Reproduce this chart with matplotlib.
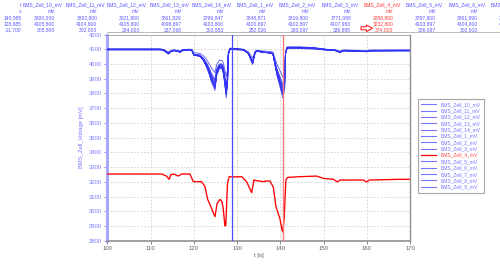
import matplotlib
matplotlib.use('Agg')
import matplotlib.pyplot as plt
from matplotlib.patches import Polygon
from matplotlib.lines import Line2D
import numpy as np

plt.rcParams['font.family'] = ['Liberation Sans', 'DejaVu Sans']

# ---------------- data ----------------
cells = ["BMS_Zell_10_mV", "BMS_Zell_11_mV", "BMS_Zell_12_mV", "BMS_Zell_13_mV",
         "BMS_Zell_14_mV", "BMS_Zell_1_mV", "BMS_Zell_2_mV", "BMS_Zell_3_mV",
         "BMS_Zell_4_mV", "BMS_Zell_5_mV", "BMS_Zell_6_mV", "BMS_Zell_7_mV",
         "BMS_Zell_8_mV", "BMS_Zell_9_mV"]
red_cell = "BMS_Zell_4_mV"

cursor_times = [140.585, 128.885]
# values at cursor 1 (t=140.585) and cursor 2 (t=128.885)
val_cursor1 = [3800.000, 3802.800, 3821.800, 3861.829, 3799.847, 3848.871, 3819.800,
               3771.088, 2858.800, 3797.800, 3801.890, 3913.000, 3790.000, 3835.000]
val_cursor2 = [4105.800, 4104.800, 4105.800, 4098.897, 4103.800, 4100.897, 4102.897,
               4107.983, 3232.800, 4103.897, 4104.800, 4104.000, 4104.500, 4103.000]

# typical course of the upper (blue) cells
t_blue = [100, 112.2, 113.0, 114.1, 114.7, 115.3, 116.0, 116.8, 117.5, 118.4, 119.5,
          120.0, 121.4, 122.2, 123.0, 123.6, 124.1, 124.9, 125.3, 125.9, 126.4, 126.7,
          127.0, 127.5, 127.8, 128.0, 128.4, 128.885, 129.9, 131.5, 132.6, 133.6, 134.2,
          134.6, 136.1, 137.3, 138.3, 139.2, 139.9, 140.585, 141.0, 141.2, 141.6, 144.6,
          148.0, 150.7, 152.5, 153.2, 153.8, 154.6, 160.0, 160.6, 167.7, 170]
v_blue = [4100, 4100, 4097, 4070, 4085, 4093, 4090, 4082, 4095, 4098, 4098,
          4062, 4055, 4030, 3985, 3940, 3895, 3845, 3935, 3978, 3980, 3968,
          3915, 3800, 3880, 4070, 4105, 4105, 4102, 4098, 4073, 4005, 4080,
          4089, 4080, 4077, 4070, 3940, 3870, 3800, 3850, 4070, 4113, 4113,
          4108, 4098, 4096, 4087, 4080, 4092, 4085, 4091, 4092, 4092]

# cell 4 (red)
t_red = [100, 112.2, 112.6, 113.7, 114.3, 114.7, 115.4, 116.4, 117.2, 119.1, 119.9,
         121.4, 121.8, 122.6, 123.2, 124.1, 124.9, 125.4, 126.1, 126.5, 126.8, 127.2,
         127.4, 127.8, 128.2, 128.885, 131.1, 132.2, 133.4, 133.9, 134.5, 136.1, 136.9,
         137.6, 138.4, 139.0, 139.9, 140.4, 140.585, 140.9, 141.3, 141.7, 144.6, 148.4,
         150.0, 152.3, 153.2, 153.8, 159.2, 160.0, 160.6, 167.7, 170]
v_red = [3253, 3253, 3253, 3239, 3217, 3249, 3253, 3239, 3253, 3253, 3201,
         3201, 3201, 3167, 3081, 3020, 2963, 3054, 3081, 3066, 3020, 2900,
         2905, 3190, 3236, 3233, 3235, 3201, 3126, 3212, 3208, 3201, 3206,
         3206, 3163, 3031, 2952, 2873, 2859, 2950, 3212, 3230, 3235, 3239,
         3223, 3217, 3199, 3212, 3212, 3199, 3212, 3217, 3217]

x_ticks = [100, 110, 120, 130, 140, 150, 160, 170]
y_ticks = [2800, 2900, 3000, 3100, 3200, 3300, 3400, 3500, 3600, 3700, 3800, 3900, 4000, 4100, 4200]

# ---------------- figure ----------------
W, H = 500, 265
fig = plt.figure(figsize=(W / 100, H / 100), dpi=100)
fig.patch.set_facecolor('white')

def fx(px):
    return px / W

def fy(py):
    return 1 - py / H

ax_l, ax_r, ax_t, ax_b = 107.3, 410.0, 34.6, 240.7
ax = fig.add_axes([fx(ax_l), fy(ax_b), fx(ax_r) - fx(ax_l), fy(ax_t) - fy(ax_b)])

BLUE = '#3434f4'
LBLUE = '#7878ff'
RED = '#ff0000'
FS = 4.2      # axis text
FT = 3.6      # header / legend text

tb = np.array(t_blue, dtype=float)
vb = np.array(v_blue, dtype=float)
ref1 = np.interp(cursor_times[0], tb, vb)
ref2 = np.interp(cursor_times[1], tb, vb)

handles = []
for i, name in enumerate(cells):
    if name == red_cell:
        ax.plot(t_red, v_red, color=RED, lw=0.95, zorder=4)
        handles.append(Line2D([], [], color=RED, lw=0.9))
    else:
        scale = (val_cursor2[i] - val_cursor1[i]) / (ref2 - ref1)
        v = val_cursor2[i] + (vb - ref2) * scale
        ax.plot(tb, v, color=BLUE, lw=0.6, alpha=0.85, zorder=3)
        handles.append(Line2D([], [], color=LBLUE, lw=0.8))

# cursors
ax.axvline(cursor_times[1], color='#4a4aff', lw=0.9, zorder=5)
ax.axvline(cursor_times[0], color='#ff7a7a', lw=1.0, zorder=5)

ax.set_xlim(100, 170)
ax.set_ylim(2800, 4200)
ax.set_xticks(x_ticks)
ax.set_yticks(y_ticks)
ax.grid(True, color='#cfcfcf', lw=0.6, linestyle=(0, (2, 2)))
ax.set_axisbelow(True)

ax.tick_params(axis='y', colors=LBLUE, labelsize=FS, length=2.5, width=0.6, pad=1.5)
ax.tick_params(axis='x', colors='#707070', labelsize=FS, length=2.5, width=0.6, pad=1.5)
for lab in ax.get_xticklabels():
    lab.set_color('#606060')

ax.spines['left'].set_color('#a8a8ff')
ax.spines['left'].set_linewidth(2.2)
ax.spines['bottom'].set_color('#909090')
ax.spines['bottom'].set_linewidth(1.2)
ax.spines['right'].set_color('#909090')
ax.spines['right'].set_linewidth(1.0)
ax.spines['top'].set_color('#a0a0a0')
ax.spines['top'].set_linewidth(0.6)

ax.set_xlabel('t [s]', fontsize=FS, color='#505050', labelpad=1.5)
ax.set_ylabel('BMS_Zell_Voltage [mV]', fontsize=FS, color=LBLUE, labelpad=3)

# legend
leg = fig.legend(handles, cells, loc='upper left', bbox_to_anchor=(fx(418), fy(99)),
                 borderaxespad=0, fontsize=FT, frameon=True, fancybox=False,
                 handlelength=3.0, handletextpad=1.0, labelspacing=0.27,
                 borderpad=0.6)
leg.get_frame().set_edgecolor('#909090')
leg.get_frame().set_linewidth(0.8)
for txt, name in zip(leg.get_texts(), cells):
    txt.set_color('#ff5050' if name == red_cell else LBLUE)

# ---------------- header table ----------------
row_y = [5.2, 11.6, 18.0, 24.2, 30.0]
TXT_BLUE = '#5a5aff'
TXT_RED = '#ff3a3a'

def fmt(v):
    return f"{v:.3f}".replace('.', ',')

# first column (time)
first_col = ['t', 's', fmt(cursor_times[0]), fmt(cursor_times[1]),
             fmt(cursor_times[1] - cursor_times[0])]
for y, s in zip(row_y, first_col):
    fig.text(fx(21.5), fy(y), s, ha='right', va='center', fontsize=FT, color=TXT_BLUE)

# columns visible in the cursor table (the last one runs past the right edge)
col_right0 = 55.0
col_step = 42.3
for k, name in enumerate(cells[:12]):
    r = col_right0 + col_step * k
    c = TXT_RED if name == red_cell else TXT_BLUE
    fig.text(fx(r + 7.5), fy(row_y[0]), name, ha='right', va='center', fontsize=FT, color=c)
    fig.text(fx(r), fy(row_y[1]), 'mV', ha='right', va='center', fontsize=FT, color=c)
    fig.text(fx(r), fy(row_y[2]), fmt(val_cursor1[k]), ha='right', va='center', fontsize=FT, color=c)
    fig.text(fx(r), fy(row_y[3]), fmt(val_cursor2[k]), ha='right', va='center', fontsize=FT, color=c)
    fig.text(fx(r), fy(row_y[4]), fmt(val_cursor2[k] - val_cursor1[k]), ha='right', va='center',
             fontsize=FT, color=c)

# header separator line
fig.add_artist(Line2D([fx(ax_l), fx(500)], [fy(32.2), fy(32.2)], color='#b0b0b0', lw=0.6))

# red marker arrow pointing to the cell 4 difference
arrow_px = [(361, 26.8), (366.5, 26.8), (366.5, 25.0), (372.5, 28.3), (366.5, 31.6), (366.5, 29.8), (361, 29.8)]
fig.add_artist(Polygon([(fx(x), fy(y)) for x, y in arrow_px], closed=True,
                       facecolor='white', edgecolor='#ff2020', lw=0.8,
                       transform=fig.transFigure))

fig.savefig('out.png', dpi=100)
